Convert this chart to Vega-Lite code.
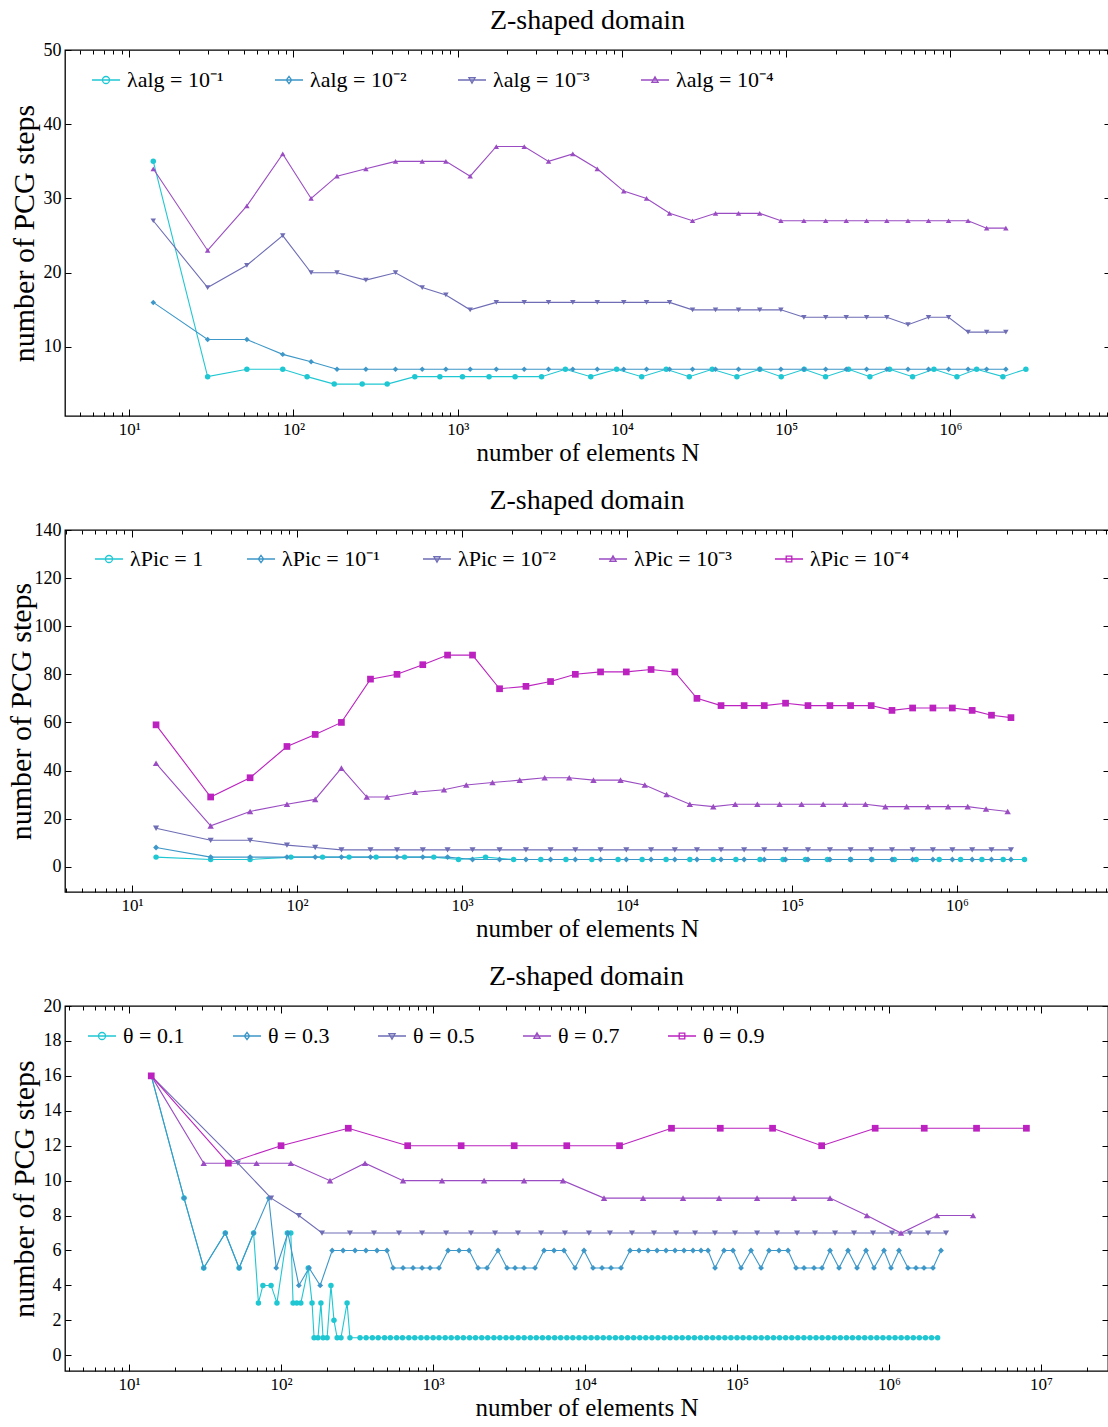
{
  "$schema": "https://vega.github.io/schema/vega-lite/v6.json",
  "background": "white",
  "padding": {"left": 5, "top": 6, "right": 0, "bottom": 0},
  "config": {
    "font": "Liberation Serif",
    "view": {"stroke": "black", "strokeWidth": 1.3},
    "axis": {"domain": false, "grid": false, "tickColor": "black", "tickWidth": 1, "labelColor": "black", "titleColor": "black", "labelFont": "Liberation Serif", "titleFont": "Liberation Serif", "titleFontWeight": "normal", "labelFlush": false, "labelOverlap": false},
    "legend": {"labelFont": "Liberation Serif", "labelFontSize": 22, "labelColor": "black", "padding": 0, "rowPadding": 0},
    "title": {"font": "Liberation Serif", "fontSize": 28, "fontWeight": "normal", "color": "black"}
  },
  "datasets": {
    "p1": [
      {"series": "λalg = 10⁻¹", "N": 14, "steps": 35}, {"series": "λalg = 10⁻¹", "N": 30, "steps": 6}, {"series": "λalg = 10⁻¹", "N": 52, "steps": 7}, {"series": "λalg = 10⁻¹", "N": 86, "steps": 7}, {"series": "λalg = 10⁻¹", "N": 121, "steps": 6}, {"series": "λalg = 10⁻¹", "N": 177, "steps": 5}, {"series": "λalg = 10⁻¹", "N": 262, "steps": 5}, {"series": "λalg = 10⁻¹", "N": 372, "steps": 5}, {"series": "λalg = 10⁻¹", "N": 548, "steps": 6}, {"series": "λalg = 10⁻¹", "N": 779, "steps": 6}, {"series": "λalg = 10⁻¹", "N": 1069, "steps": 6}, {"series": "λalg = 10⁻¹", "N": 1552, "steps": 6}, {"series": "λalg = 10⁻¹", "N": 2236, "steps": 6}, {"series": "λalg = 10⁻¹", "N": 3241, "steps": 6}, {"series": "λalg = 10⁻¹", "N": 4525, "steps": 7}, {"series": "λalg = 10⁻¹", "N": 6461, "steps": 6}, {"series": "λalg = 10⁻¹", "N": 9284, "steps": 7}, {"series": "λalg = 10⁻¹", "N": 13190, "steps": 6}, {"series": "λalg = 10⁻¹", "N": 18612, "steps": 7}, {"series": "λalg = 10⁻¹", "N": 25716, "steps": 6}, {"series": "λalg = 10⁻¹", "N": 35470, "steps": 7}, {"series": "λalg = 10⁻¹", "N": 50131, "steps": 6}, {"series": "λalg = 10⁻¹", "N": 69170, "steps": 7}, {"series": "λalg = 10⁻¹", "N": 93342, "steps": 6}, {"series": "λalg = 10⁻¹", "N": 128810, "steps": 7}, {"series": "λalg = 10⁻¹", "N": 173802, "steps": 6}, {"series": "λalg = 10⁻¹", "N": 239870, "steps": 7}, {"series": "λalg = 10⁻¹", "N": 323611, "steps": 6}, {"series": "λalg = 10⁻¹", "N": 426566, "steps": 7}, {"series": "λalg = 10⁻¹", "N": 588861, "steps": 6}, {"series": "λalg = 10⁻¹", "N": 794309, "steps": 7}, {"series": "λalg = 10⁻¹", "N": 1096501, "steps": 6}, {"series": "λalg = 10⁻¹", "N": 1445423, "steps": 7}, {"series": "λalg = 10⁻¹", "N": 2089318, "steps": 6}, {"series": "λalg = 10⁻¹", "N": 2884011, "steps": 7},
      {"series": "λalg = 10⁻²", "N": 14, "steps": 16}, {"series": "λalg = 10⁻²", "N": 30, "steps": 11}, {"series": "λalg = 10⁻²", "N": 52, "steps": 11}, {"series": "λalg = 10⁻²", "N": 86, "steps": 9}, {"series": "λalg = 10⁻²", "N": 128, "steps": 8}, {"series": "λalg = 10⁻²", "N": 184, "steps": 7}, {"series": "λalg = 10⁻²", "N": 276, "steps": 7}, {"series": "λalg = 10⁻²", "N": 418, "steps": 7}, {"series": "λalg = 10⁻²", "N": 608, "steps": 7}, {"series": "λalg = 10⁻²", "N": 847, "steps": 7}, {"series": "λalg = 10⁻²", "N": 1191, "steps": 7}, {"series": "λalg = 10⁻²", "N": 1718, "steps": 7}, {"series": "λalg = 10⁻²", "N": 2541, "steps": 7}, {"series": "λalg = 10⁻²", "N": 3573, "steps": 7}, {"series": "λalg = 10⁻²", "N": 5023, "steps": 7}, {"series": "λalg = 10⁻²", "N": 7079, "steps": 7}, {"series": "λalg = 10⁻²", "N": 10257, "steps": 7}, {"series": "λalg = 10⁻²", "N": 14125, "steps": 7}, {"series": "λalg = 10⁻²", "N": 19498, "steps": 7}, {"series": "λalg = 10⁻²", "N": 26915, "steps": 7}, {"series": "λalg = 10⁻²", "N": 37154, "steps": 7}, {"series": "λalg = 10⁻²", "N": 51286, "steps": 7}, {"series": "λalg = 10⁻²", "N": 69024, "steps": 7}, {"series": "λalg = 10⁻²", "N": 92897, "steps": 7}, {"series": "λalg = 10⁻²", "N": 128233, "steps": 7}, {"series": "λalg = 10⁻²", "N": 174181, "steps": 7}, {"series": "λalg = 10⁻²", "N": 232274, "steps": 7}, {"series": "λalg = 10⁻²", "N": 309030, "steps": 7}, {"series": "λalg = 10⁻²", "N": 410204, "steps": 7}, {"series": "λalg = 10⁻²", "N": 552077, "steps": 7}, {"series": "λalg = 10⁻²", "N": 736207, "steps": 7}, {"series": "λalg = 10⁻²", "N": 975002, "steps": 7}, {"series": "λalg = 10⁻²", "N": 1282331, "steps": 7}, {"series": "λalg = 10⁻²", "N": 1663412, "steps": 7}, {"series": "λalg = 10⁻²", "N": 2177762, "steps": 7},
      {"series": "λalg = 10⁻³", "N": 14, "steps": 27}, {"series": "λalg = 10⁻³", "N": 30, "steps": 18}, {"series": "λalg = 10⁻³", "N": 52, "steps": 21}, {"series": "λalg = 10⁻³", "N": 86, "steps": 25}, {"series": "λalg = 10⁻³", "N": 128, "steps": 20}, {"series": "λalg = 10⁻³", "N": 184, "steps": 20}, {"series": "λalg = 10⁻³", "N": 276, "steps": 19}, {"series": "λalg = 10⁻³", "N": 418, "steps": 20}, {"series": "λalg = 10⁻³", "N": 608, "steps": 18}, {"series": "λalg = 10⁻³", "N": 847, "steps": 17}, {"series": "λalg = 10⁻³", "N": 1191, "steps": 15}, {"series": "λalg = 10⁻³", "N": 1718, "steps": 16}, {"series": "λalg = 10⁻³", "N": 2541, "steps": 16}, {"series": "λalg = 10⁻³", "N": 3573, "steps": 16}, {"series": "λalg = 10⁻³", "N": 5023, "steps": 16}, {"series": "λalg = 10⁻³", "N": 7079, "steps": 16}, {"series": "λalg = 10⁻³", "N": 10257, "steps": 16}, {"series": "λalg = 10⁻³", "N": 14125, "steps": 16}, {"series": "λalg = 10⁻³", "N": 19498, "steps": 16}, {"series": "λalg = 10⁻³", "N": 26915, "steps": 15}, {"series": "λalg = 10⁻³", "N": 37154, "steps": 15}, {"series": "λalg = 10⁻³", "N": 51286, "steps": 15}, {"series": "λalg = 10⁻³", "N": 69024, "steps": 15}, {"series": "λalg = 10⁻³", "N": 92897, "steps": 15}, {"series": "λalg = 10⁻³", "N": 128233, "steps": 14}, {"series": "λalg = 10⁻³", "N": 174181, "steps": 14}, {"series": "λalg = 10⁻³", "N": 232274, "steps": 14}, {"series": "λalg = 10⁻³", "N": 309030, "steps": 14}, {"series": "λalg = 10⁻³", "N": 410204, "steps": 14}, {"series": "λalg = 10⁻³", "N": 552077, "steps": 13}, {"series": "λalg = 10⁻³", "N": 736207, "steps": 14}, {"series": "λalg = 10⁻³", "N": 975002, "steps": 14}, {"series": "λalg = 10⁻³", "N": 1282331, "steps": 12}, {"series": "λalg = 10⁻³", "N": 1663412, "steps": 12}, {"series": "λalg = 10⁻³", "N": 2177762, "steps": 12},
      {"series": "λalg = 10⁻⁴", "N": 14, "steps": 34}, {"series": "λalg = 10⁻⁴", "N": 30, "steps": 23}, {"series": "λalg = 10⁻⁴", "N": 52, "steps": 29}, {"series": "λalg = 10⁻⁴", "N": 86, "steps": 36}, {"series": "λalg = 10⁻⁴", "N": 128, "steps": 30}, {"series": "λalg = 10⁻⁴", "N": 184, "steps": 33}, {"series": "λalg = 10⁻⁴", "N": 276, "steps": 34}, {"series": "λalg = 10⁻⁴", "N": 418, "steps": 35}, {"series": "λalg = 10⁻⁴", "N": 608, "steps": 35}, {"series": "λalg = 10⁻⁴", "N": 847, "steps": 35}, {"series": "λalg = 10⁻⁴", "N": 1191, "steps": 33}, {"series": "λalg = 10⁻⁴", "N": 1718, "steps": 37}, {"series": "λalg = 10⁻⁴", "N": 2541, "steps": 37}, {"series": "λalg = 10⁻⁴", "N": 3573, "steps": 35}, {"series": "λalg = 10⁻⁴", "N": 5023, "steps": 36}, {"series": "λalg = 10⁻⁴", "N": 7079, "steps": 34}, {"series": "λalg = 10⁻⁴", "N": 10257, "steps": 31}, {"series": "λalg = 10⁻⁴", "N": 14125, "steps": 30}, {"series": "λalg = 10⁻⁴", "N": 19498, "steps": 28}, {"series": "λalg = 10⁻⁴", "N": 26915, "steps": 27}, {"series": "λalg = 10⁻⁴", "N": 37154, "steps": 28}, {"series": "λalg = 10⁻⁴", "N": 51286, "steps": 28}, {"series": "λalg = 10⁻⁴", "N": 69024, "steps": 28}, {"series": "λalg = 10⁻⁴", "N": 92897, "steps": 27}, {"series": "λalg = 10⁻⁴", "N": 128233, "steps": 27}, {"series": "λalg = 10⁻⁴", "N": 174181, "steps": 27}, {"series": "λalg = 10⁻⁴", "N": 232274, "steps": 27}, {"series": "λalg = 10⁻⁴", "N": 309030, "steps": 27}, {"series": "λalg = 10⁻⁴", "N": 410204, "steps": 27}, {"series": "λalg = 10⁻⁴", "N": 552077, "steps": 27}, {"series": "λalg = 10⁻⁴", "N": 736207, "steps": 27}, {"series": "λalg = 10⁻⁴", "N": 975002, "steps": 27}, {"series": "λalg = 10⁻⁴", "N": 1282331, "steps": 27}, {"series": "λalg = 10⁻⁴", "N": 1663412, "steps": 26}, {"series": "λalg = 10⁻⁴", "N": 2177762, "steps": 26}
    ],
    "p2": [
      {"series": "λPic = 1", "N": 14, "steps": 4}, {"series": "λPic = 1", "N": 30, "steps": 3}, {"series": "λPic = 1", "N": 52, "steps": 3}, {"series": "λPic = 1", "N": 92, "steps": 4}, {"series": "λPic = 1", "N": 143, "steps": 4}, {"series": "λPic = 1", "N": 207, "steps": 4}, {"series": "λPic = 1", "N": 302, "steps": 4}, {"series": "λPic = 1", "N": 449, "steps": 4}, {"series": "λPic = 1", "N": 675, "steps": 4}, {"series": "λPic = 1", "N": 953, "steps": 3}, {"series": "λPic = 1", "N": 1390, "steps": 4}, {"series": "λPic = 1", "N": 2056, "steps": 3}, {"series": "λPic = 1", "N": 3006, "steps": 3}, {"series": "λPic = 1", "N": 4266, "steps": 3}, {"series": "λPic = 1", "N": 6124, "steps": 3}, {"series": "λPic = 1", "N": 8831, "steps": 3}, {"series": "λPic = 1", "N": 12359, "steps": 3}, {"series": "λPic = 1", "N": 17258, "steps": 3}, {"series": "λPic = 1", "N": 24044, "steps": 3}, {"series": "λPic = 1", "N": 33343, "steps": 3}, {"series": "λPic = 1", "N": 45709, "steps": 3}, {"series": "λPic = 1", "N": 63973, "steps": 3}, {"series": "λPic = 1", "N": 88308, "steps": 3}, {"series": "λPic = 1", "N": 120781, "steps": 3}, {"series": "λPic = 1", "N": 164059, "steps": 3}, {"series": "λPic = 1", "N": 226464, "steps": 3}, {"series": "λPic = 1", "N": 304790, "steps": 3}, {"series": "λPic = 1", "N": 416869, "steps": 3}, {"series": "λPic = 1", "N": 566239, "steps": 3}, {"series": "λPic = 1", "N": 779830, "steps": 3}, {"series": "λPic = 1", "N": 1051962, "steps": 3}, {"series": "λPic = 1", "N": 1415794, "steps": 3}, {"series": "λPic = 1", "N": 1905461, "steps": 3}, {"series": "λPic = 1", "N": 2564484, "steps": 3},
      {"series": "λPic = 10⁻¹", "N": 14, "steps": 8}, {"series": "λPic = 10⁻¹", "N": 30, "steps": 4}, {"series": "λPic = 10⁻¹", "N": 52, "steps": 4}, {"series": "λPic = 10⁻¹", "N": 87, "steps": 4}, {"series": "λPic = 10⁻¹", "N": 129, "steps": 4}, {"series": "λPic = 10⁻¹", "N": 186, "steps": 4}, {"series": "λPic = 10⁻¹", "N": 279, "steps": 4}, {"series": "λPic = 10⁻¹", "N": 404, "steps": 4}, {"series": "λPic = 10⁻¹", "N": 579, "steps": 4}, {"series": "λPic = 10⁻¹", "N": 818, "steps": 4}, {"series": "λPic = 10⁻¹", "N": 1159, "steps": 3}, {"series": "λPic = 10⁻¹", "N": 1690, "steps": 3}, {"series": "λPic = 10⁻¹", "N": 2443, "steps": 3}, {"series": "λPic = 10⁻¹", "N": 3443, "steps": 3}, {"series": "λPic = 10⁻¹", "N": 4864, "steps": 3}, {"series": "λPic = 10⁻¹", "N": 6918, "steps": 3}, {"series": "λPic = 10⁻¹", "N": 9908, "steps": 3}, {"series": "λPic = 10⁻¹", "N": 13996, "steps": 3}, {"series": "λPic = 10⁻¹", "N": 19498, "steps": 3}, {"series": "λPic = 10⁻¹", "N": 26546, "steps": 3}, {"series": "λPic = 10⁻¹", "N": 37154, "steps": 3}, {"series": "λPic = 10⁻¹", "N": 51286, "steps": 3}, {"series": "λPic = 10⁻¹", "N": 67920, "steps": 3}, {"series": "λPic = 10⁻¹", "N": 91411, "steps": 3}, {"series": "λPic = 10⁻¹", "N": 125026, "steps": 3}, {"series": "λPic = 10⁻¹", "N": 169824, "steps": 3}, {"series": "λPic = 10⁻¹", "N": 226464, "steps": 3}, {"series": "λPic = 10⁻¹", "N": 301995, "steps": 3}, {"series": "λPic = 10⁻¹", "N": 403645, "steps": 3}, {"series": "λPic = 10⁻¹", "N": 538270, "steps": 3}, {"series": "λPic = 10⁻¹", "N": 714496, "steps": 3}, {"series": "λPic = 10⁻¹", "N": 937562, "steps": 3}, {"series": "λPic = 10⁻¹", "N": 1235947, "steps": 3}, {"series": "λPic = 10⁻¹", "N": 1618100, "steps": 3}, {"series": "λPic = 10⁻¹", "N": 2123244, "steps": 3},
      {"series": "λPic = 10⁻²", "N": 14, "steps": 16}, {"series": "λPic = 10⁻²", "N": 30, "steps": 11}, {"series": "λPic = 10⁻²", "N": 52, "steps": 11}, {"series": "λPic = 10⁻²", "N": 87, "steps": 9}, {"series": "λPic = 10⁻²", "N": 129, "steps": 8}, {"series": "λPic = 10⁻²", "N": 186, "steps": 7}, {"series": "λPic = 10⁻²", "N": 279, "steps": 7}, {"series": "λPic = 10⁻²", "N": 404, "steps": 7}, {"series": "λPic = 10⁻²", "N": 579, "steps": 7}, {"series": "λPic = 10⁻²", "N": 818, "steps": 7}, {"series": "λPic = 10⁻²", "N": 1159, "steps": 7}, {"series": "λPic = 10⁻²", "N": 1690, "steps": 7}, {"series": "λPic = 10⁻²", "N": 2443, "steps": 7}, {"series": "λPic = 10⁻²", "N": 3443, "steps": 7}, {"series": "λPic = 10⁻²", "N": 4864, "steps": 7}, {"series": "λPic = 10⁻²", "N": 6918, "steps": 7}, {"series": "λPic = 10⁻²", "N": 9908, "steps": 7}, {"series": "λPic = 10⁻²", "N": 13996, "steps": 7}, {"series": "λPic = 10⁻²", "N": 19498, "steps": 7}, {"series": "λPic = 10⁻²", "N": 26546, "steps": 7}, {"series": "λPic = 10⁻²", "N": 37154, "steps": 7}, {"series": "λPic = 10⁻²", "N": 51286, "steps": 7}, {"series": "λPic = 10⁻²", "N": 67920, "steps": 7}, {"series": "λPic = 10⁻²", "N": 91411, "steps": 7}, {"series": "λPic = 10⁻²", "N": 125026, "steps": 7}, {"series": "λPic = 10⁻²", "N": 169824, "steps": 7}, {"series": "λPic = 10⁻²", "N": 226464, "steps": 7}, {"series": "λPic = 10⁻²", "N": 301995, "steps": 7}, {"series": "λPic = 10⁻²", "N": 403645, "steps": 7}, {"series": "λPic = 10⁻²", "N": 538270, "steps": 7}, {"series": "λPic = 10⁻²", "N": 714496, "steps": 7}, {"series": "λPic = 10⁻²", "N": 937562, "steps": 7}, {"series": "λPic = 10⁻²", "N": 1235947, "steps": 7}, {"series": "λPic = 10⁻²", "N": 1618100, "steps": 7}, {"series": "λPic = 10⁻²", "N": 2123244, "steps": 7},
      {"series": "λPic = 10⁻³", "N": 14, "steps": 43}, {"series": "λPic = 10⁻³", "N": 30, "steps": 17}, {"series": "λPic = 10⁻³", "N": 52, "steps": 23}, {"series": "λPic = 10⁻³", "N": 87, "steps": 26}, {"series": "λPic = 10⁻³", "N": 129, "steps": 28}, {"series": "λPic = 10⁻³", "N": 186, "steps": 41}, {"series": "λPic = 10⁻³", "N": 265, "steps": 29}, {"series": "λPic = 10⁻³", "N": 352, "steps": 29}, {"series": "λPic = 10⁻³", "N": 520, "steps": 31}, {"series": "λPic = 10⁻³", "N": 778, "steps": 32}, {"series": "λPic = 10⁻³", "N": 1062, "steps": 34}, {"series": "λPic = 10⁻³", "N": 1531, "steps": 35}, {"series": "λPic = 10⁻³", "N": 2239, "steps": 36}, {"series": "λPic = 10⁻³", "N": 3170, "steps": 37}, {"series": "λPic = 10⁻³", "N": 4467, "steps": 37}, {"series": "λPic = 10⁻³", "N": 6266, "steps": 36}, {"series": "λPic = 10⁻³", "N": 9141, "steps": 36}, {"series": "λPic = 10⁻³", "N": 12823, "steps": 34}, {"series": "λPic = 10⁻³", "N": 17378, "steps": 30}, {"series": "λPic = 10⁻³", "N": 24044, "steps": 26}, {"series": "λPic = 10⁻³", "N": 33343, "steps": 25}, {"series": "λPic = 10⁻³", "N": 45290, "steps": 26}, {"series": "λPic = 10⁻³", "N": 61660, "steps": 26}, {"series": "λPic = 10⁻³", "N": 84140, "steps": 26}, {"series": "λPic = 10⁻³", "N": 114288, "steps": 26}, {"series": "λPic = 10⁻³", "N": 154525, "steps": 26}, {"series": "λPic = 10⁻³", "N": 210378, "steps": 26}, {"series": "λPic = 10⁻³", "N": 278612, "steps": 26}, {"series": "λPic = 10⁻³", "N": 368129, "steps": 25}, {"series": "λPic = 10⁻³", "N": 495450, "steps": 25}, {"series": "λPic = 10⁻³", "N": 666807, "steps": 25}, {"series": "λPic = 10⁻³", "N": 883079, "steps": 25}, {"series": "λPic = 10⁻³", "N": 1161449, "steps": 25}, {"series": "λPic = 10⁻³", "N": 1499685, "steps": 24}, {"series": "λPic = 10⁻³", "N": 2027683, "steps": 23},
      {"series": "λPic = 10⁻⁴", "N": 14, "steps": 59}, {"series": "λPic = 10⁻⁴", "N": 30, "steps": 29}, {"series": "λPic = 10⁻⁴", "N": 52, "steps": 37}, {"series": "λPic = 10⁻⁴", "N": 87, "steps": 50}, {"series": "λPic = 10⁻⁴", "N": 129, "steps": 55}, {"series": "λPic = 10⁻⁴", "N": 186, "steps": 60}, {"series": "λPic = 10⁻⁴", "N": 279, "steps": 78}, {"series": "λPic = 10⁻⁴", "N": 404, "steps": 80}, {"series": "λPic = 10⁻⁴", "N": 579, "steps": 84}, {"series": "λPic = 10⁻⁴", "N": 818, "steps": 88}, {"series": "λPic = 10⁻⁴", "N": 1159, "steps": 88}, {"series": "λPic = 10⁻⁴", "N": 1690, "steps": 74}, {"series": "λPic = 10⁻⁴", "N": 2443, "steps": 75}, {"series": "λPic = 10⁻⁴", "N": 3443, "steps": 77}, {"series": "λPic = 10⁻⁴", "N": 4864, "steps": 80}, {"series": "λPic = 10⁻⁴", "N": 6918, "steps": 81}, {"series": "λPic = 10⁻⁴", "N": 9908, "steps": 81}, {"series": "λPic = 10⁻⁴", "N": 13996, "steps": 82}, {"series": "λPic = 10⁻⁴", "N": 19498, "steps": 81}, {"series": "λPic = 10⁻⁴", "N": 26546, "steps": 70}, {"series": "λPic = 10⁻⁴", "N": 37154, "steps": 67}, {"series": "λPic = 10⁻⁴", "N": 51286, "steps": 67}, {"series": "λPic = 10⁻⁴", "N": 67920, "steps": 67}, {"series": "λPic = 10⁻⁴", "N": 91411, "steps": 68}, {"series": "λPic = 10⁻⁴", "N": 125026, "steps": 67}, {"series": "λPic = 10⁻⁴", "N": 169824, "steps": 67}, {"series": "λPic = 10⁻⁴", "N": 226464, "steps": 67}, {"series": "λPic = 10⁻⁴", "N": 301995, "steps": 67}, {"series": "λPic = 10⁻⁴", "N": 403645, "steps": 65}, {"series": "λPic = 10⁻⁴", "N": 538270, "steps": 66}, {"series": "λPic = 10⁻⁴", "N": 714496, "steps": 66}, {"series": "λPic = 10⁻⁴", "N": 937562, "steps": 66}, {"series": "λPic = 10⁻⁴", "N": 1235947, "steps": 65}, {"series": "λPic = 10⁻⁴", "N": 1618100, "steps": 63}, {"series": "λPic = 10⁻⁴", "N": 2123244, "steps": 62}
    ],
    "p3": [
      {"series": "θ = 0.1", "N": 14, "steps": 16}, {"series": "θ = 0.1", "N": 23, "steps": 9}, {"series": "θ = 0.1", "N": 31, "steps": 5}, {"series": "θ = 0.1", "N": 43, "steps": 7}, {"series": "θ = 0.1", "N": 53, "steps": 5}, {"series": "θ = 0.1", "N": 66, "steps": 7}, {"series": "θ = 0.1", "N": 71, "steps": 3}, {"series": "θ = 0.1", "N": 76, "steps": 4}, {"series": "θ = 0.1", "N": 86, "steps": 4}, {"series": "θ = 0.1", "N": 94, "steps": 3}, {"series": "θ = 0.1", "N": 110, "steps": 7}, {"series": "θ = 0.1", "N": 116, "steps": 7}, {"series": "θ = 0.1", "N": 120, "steps": 3}, {"series": "θ = 0.1", "N": 127, "steps": 3}, {"series": "θ = 0.1", "N": 135, "steps": 3}, {"series": "θ = 0.1", "N": 151, "steps": 5}, {"series": "θ = 0.1", "N": 160, "steps": 3}, {"series": "θ = 0.1", "N": 165, "steps": 1}, {"series": "θ = 0.1", "N": 175, "steps": 1}, {"series": "θ = 0.1", "N": 183, "steps": 3}, {"series": "θ = 0.1", "N": 189, "steps": 1}, {"series": "θ = 0.1", "N": 201, "steps": 1}, {"series": "θ = 0.1", "N": 213, "steps": 4}, {"series": "θ = 0.1", "N": 223, "steps": 2}, {"series": "θ = 0.1", "N": 234, "steps": 1}, {"series": "θ = 0.1", "N": 248, "steps": 1}, {"series": "θ = 0.1", "N": 272, "steps": 3}, {"series": "θ = 0.1", "N": 284, "steps": 1},
      {"series": "θ = 0.1", "N": 331, "steps": 1}, {"series": "θ = 0.1", "N": 363, "steps": 1}, {"series": "θ = 0.1", "N": 399, "steps": 1}, {"series": "θ = 0.1", "N": 436, "steps": 1}, {"series": "θ = 0.1", "N": 480, "steps": 1}, {"series": "θ = 0.1", "N": 524, "steps": 1}, {"series": "θ = 0.1", "N": 576, "steps": 1}, {"series": "θ = 0.1", "N": 630, "steps": 1}, {"series": "θ = 0.1", "N": 693, "steps": 1}, {"series": "θ = 0.1", "N": 758, "steps": 1},
      {"series": "θ = 0.1", "N": 833, "steps": 1}, {"series": "θ = 0.1", "N": 911, "steps": 1}, {"series": "θ = 0.1", "N": 1002, "steps": 1}, {"series": "θ = 0.1", "N": 1095, "steps": 1}, {"series": "θ = 0.1", "N": 1203, "steps": 1}, {"series": "θ = 0.1", "N": 1317, "steps": 1}, {"series": "θ = 0.1", "N": 1446, "steps": 1}, {"series": "θ = 0.1", "N": 1584, "steps": 1}, {"series": "θ = 0.1", "N": 1739, "steps": 1}, {"series": "θ = 0.1", "N": 1904, "steps": 1},
      {"series": "θ = 0.1", "N": 2091, "steps": 1}, {"series": "θ = 0.1", "N": 2290, "steps": 1}, {"series": "θ = 0.1", "N": 2514, "steps": 1}, {"series": "θ = 0.1", "N": 2752, "steps": 1}, {"series": "θ = 0.1", "N": 3022, "steps": 1}, {"series": "θ = 0.1", "N": 3309, "steps": 1}, {"series": "θ = 0.1", "N": 3633, "steps": 1}, {"series": "θ = 0.1", "N": 3979, "steps": 1}, {"series": "θ = 0.1", "N": 4368, "steps": 1}, {"series": "θ = 0.1", "N": 4783, "steps": 1},
      {"series": "θ = 0.1", "N": 5251, "steps": 1}, {"series": "θ = 0.1", "N": 5750, "steps": 1}, {"series": "θ = 0.1", "N": 6314, "steps": 1}, {"series": "θ = 0.1", "N": 6915, "steps": 1}, {"series": "θ = 0.1", "N": 7590, "steps": 1}, {"series": "θ = 0.1", "N": 8314, "steps": 1}, {"series": "θ = 0.1", "N": 9125, "steps": 1}, {"series": "θ = 0.1", "N": 9996, "steps": 1}, {"series": "θ = 0.1", "N": 10971, "steps": 1}, {"series": "θ = 0.1", "N": 12018, "steps": 1},
      {"series": "θ = 0.1", "N": 13190, "steps": 1}, {"series": "θ = 0.1", "N": 14449, "steps": 1}, {"series": "θ = 0.1", "N": 15857, "steps": 1}, {"series": "θ = 0.1", "N": 17371, "steps": 1}, {"series": "θ = 0.1", "N": 19063, "steps": 1}, {"series": "θ = 0.1", "N": 20886, "steps": 1}, {"series": "θ = 0.1", "N": 22918, "steps": 1}, {"series": "θ = 0.1", "N": 25110, "steps": 1}, {"series": "θ = 0.1", "N": 27553, "steps": 1}, {"series": "θ = 0.1", "N": 30190, "steps": 1},
      {"series": "θ = 0.1", "N": 33125, "steps": 1}, {"series": "θ = 0.1", "N": 36296, "steps": 1}, {"series": "θ = 0.1", "N": 39826, "steps": 1}, {"series": "θ = 0.1", "N": 43640, "steps": 1}, {"series": "θ = 0.1", "N": 47881, "steps": 1}, {"series": "θ = 0.1", "N": 52466, "steps": 1}, {"series": "θ = 0.1", "N": 57560, "steps": 1}, {"series": "θ = 0.1", "N": 63080, "steps": 1}, {"series": "θ = 0.1", "N": 69200, "steps": 1}, {"series": "θ = 0.1", "N": 75840, "steps": 1},
      {"series": "θ = 0.1", "N": 83190, "steps": 1}, {"series": "θ = 0.1", "N": 91185, "steps": 1}, {"series": "θ = 0.1", "N": 100020, "steps": 1}, {"series": "θ = 0.1", "N": 109630, "steps": 1}, {"series": "θ = 0.1", "N": 120245, "steps": 1}, {"series": "θ = 0.1", "N": 131810, "steps": 1}, {"series": "θ = 0.1", "N": 144563, "steps": 1}, {"series": "θ = 0.1", "N": 158470, "steps": 1}, {"series": "θ = 0.1", "N": 173800, "steps": 1}, {"series": "θ = 0.1", "N": 190530, "steps": 1},
      {"series": "θ = 0.1", "N": 208951, "steps": 1}, {"series": "θ = 0.1", "N": 229070, "steps": 1}, {"series": "θ = 0.1", "N": 251210, "steps": 1}, {"series": "θ = 0.1", "N": 275405, "steps": 1}, {"series": "θ = 0.1", "N": 302016, "steps": 1}, {"series": "θ = 0.1", "N": 331110, "steps": 1}, {"series": "θ = 0.1", "N": 363100, "steps": 1}, {"series": "θ = 0.1", "N": 398090, "steps": 1}, {"series": "θ = 0.1", "N": 436540, "steps": 1}, {"series": "θ = 0.1", "N": 478610, "steps": 1},
      {"series": "θ = 0.1", "N": 524830, "steps": 1}, {"series": "θ = 0.1", "N": 575420, "steps": 1}, {"series": "θ = 0.1", "N": 630980, "steps": 1}, {"series": "θ = 0.1", "N": 691810, "steps": 1}, {"series": "θ = 0.1", "N": 758600, "steps": 1}, {"series": "θ = 0.1", "N": 831740, "steps": 1}, {"series": "θ = 0.1", "N": 912040, "steps": 1}, {"series": "θ = 0.1", "N": 999980, "steps": 1}, {"series": "θ = 0.1", "N": 1096500, "steps": 1}, {"series": "θ = 0.1", "N": 1202240, "steps": 1},
      {"series": "θ = 0.1", "N": 1318280, "steps": 1}, {"series": "θ = 0.1", "N": 1445420, "steps": 1}, {"series": "θ = 0.1", "N": 1584910, "steps": 1}, {"series": "θ = 0.1", "N": 1737780, "steps": 1}, {"series": "θ = 0.1", "N": 1905480, "steps": 1}, {"series": "θ = 0.1", "N": 2089270, "steps": 1},
      {"series": "θ = 0.3", "N": 14, "steps": 16}, {"series": "θ = 0.3", "N": 23, "steps": 9}, {"series": "θ = 0.3", "N": 31, "steps": 5}, {"series": "θ = 0.3", "N": 43, "steps": 7}, {"series": "θ = 0.3", "N": 53, "steps": 5}, {"series": "θ = 0.3", "N": 66, "steps": 7}, {"series": "θ = 0.3", "N": 83, "steps": 9}, {"series": "θ = 0.3", "N": 93, "steps": 5}, {"series": "θ = 0.3", "N": 111, "steps": 7}, {"series": "θ = 0.3", "N": 131, "steps": 4},
      {"series": "θ = 0.3", "N": 153, "steps": 5}, {"series": "θ = 0.3", "N": 181, "steps": 4}, {"series": "θ = 0.3", "N": 217, "steps": 6}, {"series": "θ = 0.3", "N": 256, "steps": 6}, {"series": "θ = 0.3", "N": 307, "steps": 6}, {"series": "θ = 0.3", "N": 362, "steps": 6}, {"series": "θ = 0.3", "N": 428, "steps": 6}, {"series": "θ = 0.3", "N": 498, "steps": 6}, {"series": "θ = 0.3", "N": 546, "steps": 5}, {"series": "θ = 0.3", "N": 635, "steps": 5},
      {"series": "θ = 0.3", "N": 739, "steps": 5}, {"series": "θ = 0.3", "N": 847, "steps": 5}, {"series": "θ = 0.3", "N": 956, "steps": 5}, {"series": "θ = 0.3", "N": 1095, "steps": 5}, {"series": "θ = 0.3", "N": 1256, "steps": 6}, {"series": "θ = 0.3", "N": 1483, "steps": 6}, {"series": "θ = 0.3", "N": 1726, "steps": 6}, {"series": "θ = 0.3", "N": 1978, "steps": 5}, {"series": "θ = 0.3", "N": 2266, "steps": 5}, {"series": "θ = 0.3", "N": 2677, "steps": 6},
      {"series": "θ = 0.3", "N": 3068, "steps": 5}, {"series": "θ = 0.3", "N": 3464, "steps": 5}, {"series": "θ = 0.3", "N": 3970, "steps": 5}, {"series": "θ = 0.3", "N": 4690, "steps": 5}, {"series": "θ = 0.3", "N": 5375, "steps": 6}, {"series": "θ = 0.3", "N": 6255, "steps": 6}, {"series": "θ = 0.3", "N": 7275, "steps": 6}, {"series": "θ = 0.3", "N": 8597, "steps": 5}, {"series": "θ = 0.3", "N": 9849, "steps": 6}, {"series": "θ = 0.3", "N": 11287, "steps": 5},
      {"series": "θ = 0.3", "N": 12937, "steps": 5}, {"series": "θ = 0.3", "N": 14831, "steps": 5}, {"series": "θ = 0.3", "N": 17255, "steps": 5}, {"series": "θ = 0.3", "N": 19778, "steps": 6}, {"series": "θ = 0.3", "N": 22664, "steps": 6}, {"series": "θ = 0.3", "N": 25971, "steps": 6}, {"series": "θ = 0.3", "N": 29773, "steps": 6}, {"series": "θ = 0.3", "N": 34122, "steps": 6}, {"series": "θ = 0.3", "N": 39107, "steps": 6}, {"series": "θ = 0.3", "N": 44801, "steps": 6},
      {"series": "θ = 0.3", "N": 51340, "steps": 6}, {"series": "θ = 0.3", "N": 57975, "steps": 6}, {"series": "θ = 0.3", "N": 64463, "steps": 6}, {"series": "θ = 0.3", "N": 71662, "steps": 5}, {"series": "θ = 0.3", "N": 82135, "steps": 6}, {"series": "θ = 0.3", "N": 94125, "steps": 6}, {"series": "θ = 0.3", "N": 106242, "steps": 5}, {"series": "θ = 0.3", "N": 123631, "steps": 6}, {"series": "θ = 0.3", "N": 143860, "steps": 5}, {"series": "θ = 0.3", "N": 162370, "steps": 6},
      {"series": "θ = 0.3", "N": 188934, "steps": 6}, {"series": "θ = 0.3", "N": 216570, "steps": 6}, {"series": "θ = 0.3", "N": 244485, "steps": 5}, {"series": "θ = 0.3", "N": 275985, "steps": 5}, {"series": "θ = 0.3", "N": 321170, "steps": 5}, {"series": "θ = 0.3", "N": 362423, "steps": 5}, {"series": "θ = 0.3", "N": 409029, "steps": 6}, {"series": "θ = 0.3", "N": 469088, "steps": 5}, {"series": "θ = 0.3", "N": 537530, "steps": 6}, {"series": "θ = 0.3", "N": 616000, "steps": 5},
      {"series": "θ = 0.3", "N": 705970, "steps": 6}, {"series": "θ = 0.3", "N": 796780, "steps": 5}, {"series": "θ = 0.3", "N": 927120, "steps": 6}, {"series": "θ = 0.3", "N": 1030860, "steps": 5}, {"series": "θ = 0.3", "N": 1163500, "steps": 6}, {"series": "θ = 0.3", "N": 1333520, "steps": 5}, {"series": "θ = 0.3", "N": 1505050, "steps": 5}, {"series": "θ = 0.3", "N": 1699300, "steps": 5}, {"series": "θ = 0.3", "N": 1947700, "steps": 5}, {"series": "θ = 0.3", "N": 2198400, "steps": 6},
      {"series": "θ = 0.5", "N": 14, "steps": 16}, {"series": "θ = 0.5", "N": 52, "steps": 11}, {"series": "θ = 0.5", "N": 86, "steps": 9}, {"series": "θ = 0.5", "N": 131, "steps": 8}, {"series": "θ = 0.5", "N": 186, "steps": 7}, {"series": "θ = 0.5", "N": 284, "steps": 7}, {"series": "θ = 0.5", "N": 409, "steps": 7}, {"series": "θ = 0.5", "N": 597, "steps": 7}, {"series": "θ = 0.5", "N": 847, "steps": 7}, {"series": "θ = 0.5", "N": 1219, "steps": 7}, {"series": "θ = 0.5", "N": 1778, "steps": 7}, {"series": "θ = 0.5", "N": 2559, "steps": 7}, {"series": "θ = 0.5", "N": 3622, "steps": 7}, {"series": "θ = 0.5", "N": 5140, "steps": 7}, {"series": "θ = 0.5", "N": 7379, "steps": 7}, {"series": "θ = 0.5", "N": 10617, "steps": 7}, {"series": "θ = 0.5", "N": 14588, "steps": 7}, {"series": "θ = 0.5", "N": 20370, "steps": 7}, {"series": "θ = 0.5", "N": 28445, "steps": 7}, {"series": "θ = 0.5", "N": 39719, "steps": 7}, {"series": "θ = 0.5", "N": 52966, "steps": 7}, {"series": "θ = 0.5", "N": 71614, "steps": 7}, {"series": "θ = 0.5", "N": 97051, "steps": 7}, {"series": "θ = 0.5", "N": 135519, "steps": 7}, {"series": "θ = 0.5", "N": 183231, "steps": 7}, {"series": "θ = 0.5", "N": 248313, "steps": 7}, {"series": "θ = 0.5", "N": 325837, "steps": 7}, {"series": "θ = 0.5", "N": 441570, "steps": 7}, {"series": "θ = 0.5", "N": 588844, "steps": 7}, {"series": "θ = 0.5", "N": 785236, "steps": 7}, {"series": "θ = 0.5", "N": 1047129, "steps": 7}, {"series": "θ = 0.5", "N": 1374042, "steps": 7}, {"series": "θ = 0.5", "N": 1807174, "steps": 7}, {"series": "θ = 0.5", "N": 2371374, "steps": 7},
      {"series": "θ = 0.7", "N": 14, "steps": 16}, {"series": "θ = 0.7", "N": 31, "steps": 11}, {"series": "θ = 0.7", "N": 45, "steps": 11}, {"series": "θ = 0.7", "N": 69, "steps": 11}, {"series": "θ = 0.7", "N": 116, "steps": 11}, {"series": "θ = 0.7", "N": 210, "steps": 10}, {"series": "θ = 0.7", "N": 357, "steps": 11}, {"series": "θ = 0.7", "N": 635, "steps": 10}, {"series": "θ = 0.7", "N": 1146, "steps": 10}, {"series": "θ = 0.7", "N": 2168, "steps": 10}, {"series": "θ = 0.7", "N": 3972, "steps": 10}, {"series": "θ = 0.7", "N": 7161, "steps": 10}, {"series": "θ = 0.7", "N": 13335, "steps": 9}, {"series": "θ = 0.7", "N": 24099, "steps": 9}, {"series": "θ = 0.7", "N": 44157, "steps": 9}, {"series": "θ = 0.7", "N": 76208, "steps": 9}, {"series": "θ = 0.7", "N": 135519, "steps": 9}, {"series": "θ = 0.7", "N": 237137, "steps": 9}, {"series": "θ = 0.7", "N": 409261, "steps": 9}, {"series": "θ = 0.7", "N": 716143, "steps": 8}, {"series": "θ = 0.7", "N": 1199499, "steps": 7}, {"series": "θ = 0.7", "N": 2070141, "steps": 8}, {"series": "θ = 0.7", "N": 3572728, "steps": 8},
      {"series": "θ = 0.9", "N": 14, "steps": 16}, {"series": "θ = 0.9", "N": 45, "steps": 11}, {"series": "θ = 0.9", "N": 100, "steps": 12}, {"series": "θ = 0.9", "N": 277, "steps": 13}, {"series": "θ = 0.9", "N": 681, "steps": 12}, {"series": "θ = 0.9", "N": 1531, "steps": 12}, {"series": "θ = 0.9", "N": 3420, "steps": 12}, {"series": "θ = 0.9", "N": 7586, "steps": 12}, {"series": "θ = 0.9", "N": 16866, "steps": 12}, {"series": "θ = 0.9", "N": 37068, "steps": 13}, {"series": "θ = 0.9", "N": 77625, "steps": 13}, {"series": "θ = 0.9", "N": 171396, "steps": 13}, {"series": "θ = 0.9", "N": 360579, "steps": 12}, {"series": "θ = 0.9", "N": 810961, "steps": 13}, {"series": "θ = 0.9", "N": 1706082, "steps": 13}, {"series": "θ = 0.9", "N": 3767038, "steps": 13}, {"series": "θ = 0.9", "N": 8016780, "steps": 13}
    ]
  },
  "concat": [
    {
      "width": 1045, "height": 366,
      "title": {"text": "Z-shaped domain", "offset": 6},
      "data": {"name": "p1"},
      "resolve": {"axis": {"x": "independent", "y": "independent"}, "scale": {"color": "independent", "fill": "independent", "stroke": "independent", "shape": "independent", "size": "independent"}, "legend": {"color": "independent", "fill": "independent", "stroke": "independent", "shape": "independent", "size": "independent"}},
      "layer": [
        {"mark": {"type": "line", "strokeWidth": 1.1},
         "encoding": {
           "x": {"field": "N", "type": "quantitative", "scale": {"type": "log", "domain": [4.06, 9380000], "nice": false},
                 "axis": {"orient": "bottom", "values": [10, 100, 1000, 10000, 100000, 1000000, 10000000], "labelExpr": "'10' + ['⁰','¹','²','³','⁴','⁵','⁶','⁷'][round(log(datum.value)/LN10)]", "tickSize": -7, "labelPadding": 12, "labelFontSize": 17, "title": "number of elements N", "titleFontSize": 25, "titlePadding": 3}},
           "y": {"field": "steps", "type": "quantitative", "scale": {"domain": [0.7, 50], "nice": false, "zero": false},
                 "axis": {"orient": "left", "values": [10, 20, 30, 40, 50], "tickSize": -6, "labelPadding": 10, "labelFontSize": 18, "title": "number of PCG steps", "titleFontSize": 30, "titleX": -26}},
           "stroke": {"field": "series", "type": "nominal", "scale": {"domain": ["λalg = 10⁻⁴", "λalg = 10⁻³", "λalg = 10⁻²", "λalg = 10⁻¹"], "range": ["#9a4cc2", "#6e6db5", "#3d97c8", "#1fc7d3"]}, "legend": null}
         }},
        {"mark": {"type": "point", "filled": true, "opacity": 1},
         "encoding": {
           "x": {"field": "N", "type": "quantitative", "axis": {"orient": "bottom", "values": [2,3,4,5,6,7,8,9,20,30,40,50,60,70,80,90,200,300,400,500,600,700,800,900,2000,3000,4000,5000,6000,7000,8000,9000,20000,30000,40000,50000,60000,70000,80000,90000,200000,300000,400000,500000,600000,700000,800000,900000,2000000,3000000,4000000,5000000,6000000,7000000,8000000,9000000], "labels": false, "tickSize": -4, "title": null}},
           "y": {"field": "steps", "type": "quantitative", "axis": {"orient": "right", "values": [10, 20, 30, 40, 50], "labels": false, "tickSize": -6, "title": null}},
           "color": {"field": "series", "type": "nominal", "scale": {"domain": ["λalg = 10⁻⁴", "λalg = 10⁻³", "λalg = 10⁻²", "λalg = 10⁻¹"], "range": ["#9a4cc2", "#6e6db5", "#3d97c8", "#1fc7d3"]}, "legend": null},
           "shape": {"field": "series", "type": "nominal", "scale": {"domain": ["λalg = 10⁻⁴", "λalg = 10⁻³", "λalg = 10⁻²", "λalg = 10⁻¹"], "range": ["triangle-up", "triangle-down", "diamond", "circle"]}, "legend": null},
           "size": {"field": "series", "type": "ordinal", "scale": {"domain": ["λalg = 10⁻⁴", "λalg = 10⁻³", "λalg = 10⁻²", "λalg = 10⁻¹"], "range": [30, 30, 30, 50]}, "legend": null}
         }},
        {"mark": {"type": "point", "filled": true, "opacity": 0},
         "encoding": {
           "x": {"field": "N", "type": "quantitative", "axis": {"orient": "top", "values": [10, 100, 1000, 10000, 100000, 1000000, 10000000], "labels": false, "tickSize": -7, "title": null}},
           "y": {"field": "steps", "type": "quantitative", "axis": null},
           "fill": {"field": "series", "type": "nominal", "scale": {"domain": ["λalg = 10⁻¹", "λalg = 10⁻²", "λalg = 10⁻³", "λalg = 10⁻⁴"], "range": ["#1fc7d3", "#3d97c8", "#6e6db5", "#9a4cc2"]},
                    "legend": {"orient": "none", "legendX": 26, "legendY": 15, "direction": "horizontal", "columns": 4, "columnPadding": 48, "title": null, "symbolSize": 784, "symbolStrokeWidth": 1.3, "symbolOpacity": 1, "labelOffset": 6}},
           "stroke": {"field": "series", "type": "nominal", "scale": {"domain": ["λalg = 10⁻¹", "λalg = 10⁻²", "λalg = 10⁻³", "λalg = 10⁻⁴"], "range": ["#1fc7d3", "#3d97c8", "#6e6db5", "#9a4cc2"]}},
           "shape": {"field": "series", "type": "nominal", "scale": {"domain": ["λalg = 10⁻¹", "λalg = 10⁻²", "λalg = 10⁻³", "λalg = 10⁻⁴"], "range": ["M-1,0H1M-0.25,0A0.25,0.25,0,1,0,0.25,0A0.25,0.25,0,1,0,-0.25,0Z", "M-1,0H1M0,-0.26L0.19,0L0,0.26L-0.19,0Z", "M-1,0H1M-0.22,-0.16L0.22,-0.16L0,0.22Z", "M-1,0H1M-0.22,0.16L0.22,0.16L0,-0.22Z"]}}
         }},
        {"mark": {"type": "point", "opacity": 0},
         "encoding": {
           "x": {"field": "N", "type": "quantitative", "axis": {"orient": "top", "values": [2,3,4,5,6,7,8,9,20,30,40,50,60,70,80,90,200,300,400,500,600,700,800,900,2000,3000,4000,5000,6000,7000,8000,9000,20000,30000,40000,50000,60000,70000,80000,90000,200000,300000,400000,500000,600000,700000,800000,900000,2000000,3000000,4000000,5000000,6000000,7000000,8000000,9000000], "labels": false, "tickSize": -4, "title": null}},
           "y": {"field": "steps", "type": "quantitative", "axis": null}
         }}
      ]
    },
    {
      "width": 1044, "height": 362,
      "title": {"text": "Z-shaped domain", "offset": 6},
      "data": {"name": "p2"},
      "resolve": {"axis": {"x": "independent", "y": "independent"}, "scale": {"color": "independent", "fill": "independent", "stroke": "independent", "shape": "independent", "size": "independent"}, "legend": {"color": "independent", "fill": "independent", "stroke": "independent", "shape": "independent", "size": "independent"}},
      "layer": [
        {"mark": {"type": "line", "strokeWidth": 1.1},
         "encoding": {
           "x": {"field": "N", "type": "quantitative", "scale": {"type": "log", "domain": [3.93, 8340000], "nice": false},
                 "axis": {"orient": "bottom", "values": [10, 100, 1000, 10000, 100000, 1000000, 10000000], "labelExpr": "'10' + ['⁰','¹','²','³','⁴','⁵','⁶','⁷'][round(log(datum.value)/LN10)]", "tickSize": -7, "labelPadding": 12, "labelFontSize": 17, "title": "number of elements N", "titleFontSize": 25, "titlePadding": 3}},
           "y": {"field": "steps", "type": "quantitative", "scale": {"domain": [-10.5, 140], "nice": false, "zero": false},
                 "axis": {"orient": "left", "values": [0, 20, 40, 60, 80, 100, 120, 140], "tickSize": -6, "labelPadding": 10, "labelFontSize": 18, "title": "number of PCG steps", "titleFontSize": 30, "titleX": -29}},
           "stroke": {"field": "series", "type": "nominal", "scale": {"domain": ["λPic = 10⁻⁴", "λPic = 10⁻³", "λPic = 10⁻²", "λPic = 10⁻¹", "λPic = 1"], "range": ["#bb22bf", "#9a4cc2", "#6e6db5", "#3d97c8", "#1fc7d3"]}, "legend": null}
         }},
        {"mark": {"type": "point", "filled": true, "opacity": 1},
         "encoding": {
           "x": {"field": "N", "type": "quantitative", "axis": {"orient": "bottom", "values": [2,3,4,5,6,7,8,9,20,30,40,50,60,70,80,90,200,300,400,500,600,700,800,900,2000,3000,4000,5000,6000,7000,8000,9000,20000,30000,40000,50000,60000,70000,80000,90000,200000,300000,400000,500000,600000,700000,800000,900000,2000000,3000000,4000000,5000000,6000000,7000000,8000000,9000000], "labels": false, "tickSize": -4, "title": null}},
           "y": {"field": "steps", "type": "quantitative", "axis": {"orient": "right", "values": [0, 20, 40, 60, 80, 100, 120, 140], "labels": false, "tickSize": -6, "title": null}},
           "color": {"field": "series", "type": "nominal", "scale": {"domain": ["λPic = 10⁻⁴", "λPic = 10⁻³", "λPic = 10⁻²", "λPic = 10⁻¹", "λPic = 1"], "range": ["#bb22bf", "#9a4cc2", "#6e6db5", "#3d97c8", "#1fc7d3"]}, "legend": null},
           "shape": {"field": "series", "type": "nominal", "scale": {"domain": ["λPic = 10⁻⁴", "λPic = 10⁻³", "λPic = 10⁻²", "λPic = 10⁻¹", "λPic = 1"], "range": ["square", "triangle-up", "triangle-down", "diamond", "circle"]}, "legend": null},
           "size": {"field": "series", "type": "ordinal", "scale": {"domain": ["λPic = 10⁻⁴", "λPic = 10⁻³", "λPic = 10⁻²", "λPic = 10⁻¹", "λPic = 1"], "range": [45, 30, 30, 30, 50]}, "legend": null}
         }},
        {"mark": {"type": "point", "filled": true, "opacity": 0},
         "encoding": {
           "x": {"field": "N", "type": "quantitative", "axis": {"orient": "top", "values": [10, 100, 1000, 10000, 100000, 1000000, 10000000], "labels": false, "tickSize": -7, "title": null}},
           "y": {"field": "steps", "type": "quantitative", "axis": null},
           "fill": {"field": "series", "type": "nominal", "scale": {"domain": ["λPic = 1", "λPic = 10⁻¹", "λPic = 10⁻²", "λPic = 10⁻³", "λPic = 10⁻⁴"], "range": ["#1fc7d3", "#3d97c8", "#6e6db5", "#9a4cc2", "#bb22bf"]},
                    "legend": {"orient": "none", "legendX": 29, "legendY": 14, "direction": "horizontal", "columns": 5, "columnPadding": 40, "title": null, "symbolSize": 784, "symbolStrokeWidth": 1.3, "symbolOpacity": 1, "labelOffset": 6}},
           "stroke": {"field": "series", "type": "nominal", "scale": {"domain": ["λPic = 1", "λPic = 10⁻¹", "λPic = 10⁻²", "λPic = 10⁻³", "λPic = 10⁻⁴"], "range": ["#1fc7d3", "#3d97c8", "#6e6db5", "#9a4cc2", "#bb22bf"]}},
           "shape": {"field": "series", "type": "nominal", "scale": {"domain": ["λPic = 1", "λPic = 10⁻¹", "λPic = 10⁻²", "λPic = 10⁻³", "λPic = 10⁻⁴"], "range": ["M-1,0H1M-0.25,0A0.25,0.25,0,1,0,0.25,0A0.25,0.25,0,1,0,-0.25,0Z", "M-1,0H1M0,-0.26L0.19,0L0,0.26L-0.19,0Z", "M-1,0H1M-0.22,-0.16L0.22,-0.16L0,0.22Z", "M-1,0H1M-0.22,0.16L0.22,0.16L0,-0.22Z", "M-1,0H1M-0.2,-0.2H0.2V0.2H-0.2Z"]}}
         }},
        {"mark": {"type": "point", "opacity": 0},
         "encoding": {
           "x": {"field": "N", "type": "quantitative", "axis": {"orient": "top", "values": [2,3,4,5,6,7,8,9,20,30,40,50,60,70,80,90,200,300,400,500,600,700,800,900,2000,3000,4000,5000,6000,7000,8000,9000,20000,30000,40000,50000,60000,70000,80000,90000,200000,300000,400000,500000,600000,700000,800000,900000,2000000,3000000,4000000,5000000,6000000,7000000,8000000,9000000], "labels": false, "tickSize": -4, "title": null}},
           "y": {"field": "steps", "type": "quantitative", "axis": null}
         }}
      ]
    },
    {
      "width": 1043, "height": 365,
      "title": {"text": "Z-shaped domain", "offset": 6},
      "data": {"name": "p3"},
      "resolve": {"axis": {"x": "independent", "y": "independent"}, "scale": {"color": "independent", "fill": "independent", "stroke": "independent", "shape": "independent", "size": "independent"}, "legend": {"color": "independent", "fill": "independent", "stroke": "independent", "shape": "independent", "size": "independent"}},
      "layer": [
        {"mark": {"type": "line", "strokeWidth": 1.1},
         "encoding": {
           "x": {"field": "N", "type": "quantitative", "scale": {"type": "log", "domain": [3.79, 27600000], "nice": false},
                 "axis": {"orient": "bottom", "values": [10, 100, 1000, 10000, 100000, 1000000, 10000000], "labelExpr": "'10' + ['⁰','¹','²','³','⁴','⁵','⁶','⁷'][round(log(datum.value)/LN10)]", "tickSize": -7, "labelPadding": 12, "labelFontSize": 17, "title": "number of elements N", "titleFontSize": 25, "titlePadding": 3}},
           "y": {"field": "steps", "type": "quantitative", "scale": {"domain": [-0.9, 20], "nice": false, "zero": false},
                 "axis": {"orient": "left", "values": [0, 2, 4, 6, 8, 10, 12, 14, 16, 18, 20], "tickSize": -6, "labelPadding": 10, "labelFontSize": 18, "title": "number of PCG steps", "titleFontSize": 30, "titleX": -26}},
           "stroke": {"field": "series", "type": "nominal", "scale": {"domain": ["θ = 0.9", "θ = 0.7", "θ = 0.5", "θ = 0.3", "θ = 0.1"], "range": ["#bb22bf", "#9a4cc2", "#6e6db5", "#3d97c8", "#1fc7d3"]}, "legend": null}
         }},
        {"mark": {"type": "point", "filled": true, "opacity": 1},
         "encoding": {
           "x": {"field": "N", "type": "quantitative", "axis": {"orient": "bottom", "values": [2,3,4,5,6,7,8,9,20,30,40,50,60,70,80,90,200,300,400,500,600,700,800,900,2000,3000,4000,5000,6000,7000,8000,9000,20000,30000,40000,50000,60000,70000,80000,90000,200000,300000,400000,500000,600000,700000,800000,900000,2000000,3000000,4000000,5000000,6000000,7000000,8000000,9000000,20000000], "labels": false, "tickSize": -4, "title": null}},
           "y": {"field": "steps", "type": "quantitative", "axis": {"orient": "right", "values": [0, 2, 4, 6, 8, 10, 12, 14, 16, 18, 20], "labels": false, "tickSize": -6, "title": null}},
           "color": {"field": "series", "type": "nominal", "scale": {"domain": ["θ = 0.9", "θ = 0.7", "θ = 0.5", "θ = 0.3", "θ = 0.1"], "range": ["#bb22bf", "#9a4cc2", "#6e6db5", "#3d97c8", "#1fc7d3"]}, "legend": null},
           "shape": {"field": "series", "type": "nominal", "scale": {"domain": ["θ = 0.9", "θ = 0.7", "θ = 0.5", "θ = 0.3", "θ = 0.1"], "range": ["square", "triangle-up", "triangle-down", "diamond", "circle"]}, "legend": null},
           "size": {"field": "series", "type": "ordinal", "scale": {"domain": ["θ = 0.9", "θ = 0.7", "θ = 0.5", "θ = 0.3", "θ = 0.1"], "range": [45, 30, 30, 30, 45]}, "legend": null}
         }},
        {"mark": {"type": "point", "filled": true, "opacity": 0},
         "encoding": {
           "x": {"field": "N", "type": "quantitative", "axis": {"orient": "top", "values": [10, 100, 1000, 10000, 100000, 1000000, 10000000], "labels": false, "tickSize": -7, "title": null}},
           "y": {"field": "steps", "type": "quantitative", "axis": null},
           "fill": {"field": "series", "type": "nominal", "scale": {"domain": ["θ = 0.1", "θ = 0.3", "θ = 0.5", "θ = 0.7", "θ = 0.9"], "range": ["#1fc7d3", "#3d97c8", "#6e6db5", "#9a4cc2", "#bb22bf"]},
                    "legend": {"orient": "none", "legendX": 22, "legendY": 15, "direction": "horizontal", "columns": 5, "columnPadding": 45, "title": null, "symbolSize": 784, "symbolStrokeWidth": 1.3, "symbolOpacity": 1, "labelOffset": 6}},
           "stroke": {"field": "series", "type": "nominal", "scale": {"domain": ["θ = 0.1", "θ = 0.3", "θ = 0.5", "θ = 0.7", "θ = 0.9"], "range": ["#1fc7d3", "#3d97c8", "#6e6db5", "#9a4cc2", "#bb22bf"]}},
           "shape": {"field": "series", "type": "nominal", "scale": {"domain": ["θ = 0.1", "θ = 0.3", "θ = 0.5", "θ = 0.7", "θ = 0.9"], "range": ["M-1,0H1M-0.25,0A0.25,0.25,0,1,0,0.25,0A0.25,0.25,0,1,0,-0.25,0Z", "M-1,0H1M0,-0.26L0.19,0L0,0.26L-0.19,0Z", "M-1,0H1M-0.22,-0.16L0.22,-0.16L0,0.22Z", "M-1,0H1M-0.22,0.16L0.22,0.16L0,-0.22Z", "M-1,0H1M-0.2,-0.2H0.2V0.2H-0.2Z"]}}
         }},
        {"mark": {"type": "point", "opacity": 0},
         "encoding": {
           "x": {"field": "N", "type": "quantitative", "axis": {"orient": "top", "values": [2,3,4,5,6,7,8,9,20,30,40,50,60,70,80,90,200,300,400,500,600,700,800,900,2000,3000,4000,5000,6000,7000,8000,9000,20000,30000,40000,50000,60000,70000,80000,90000,200000,300000,400000,500000,600000,700000,800000,900000,2000000,3000000,4000000,5000000,6000000,7000000,8000000,9000000,20000000], "labels": false, "tickSize": -4, "title": null}},
           "y": {"field": "steps", "type": "quantitative", "axis": null}
         }}
      ]
    }
  ],
  "columns": 1,
  "spacing": 20,
  "resolve": {"scale": {"x": "independent", "y": "independent", "color": "independent", "fill": "independent", "stroke": "independent", "shape": "independent", "size": "independent"}, "legend": {"color": "independent", "fill": "independent", "stroke": "independent", "shape": "independent", "size": "independent"}}
}
